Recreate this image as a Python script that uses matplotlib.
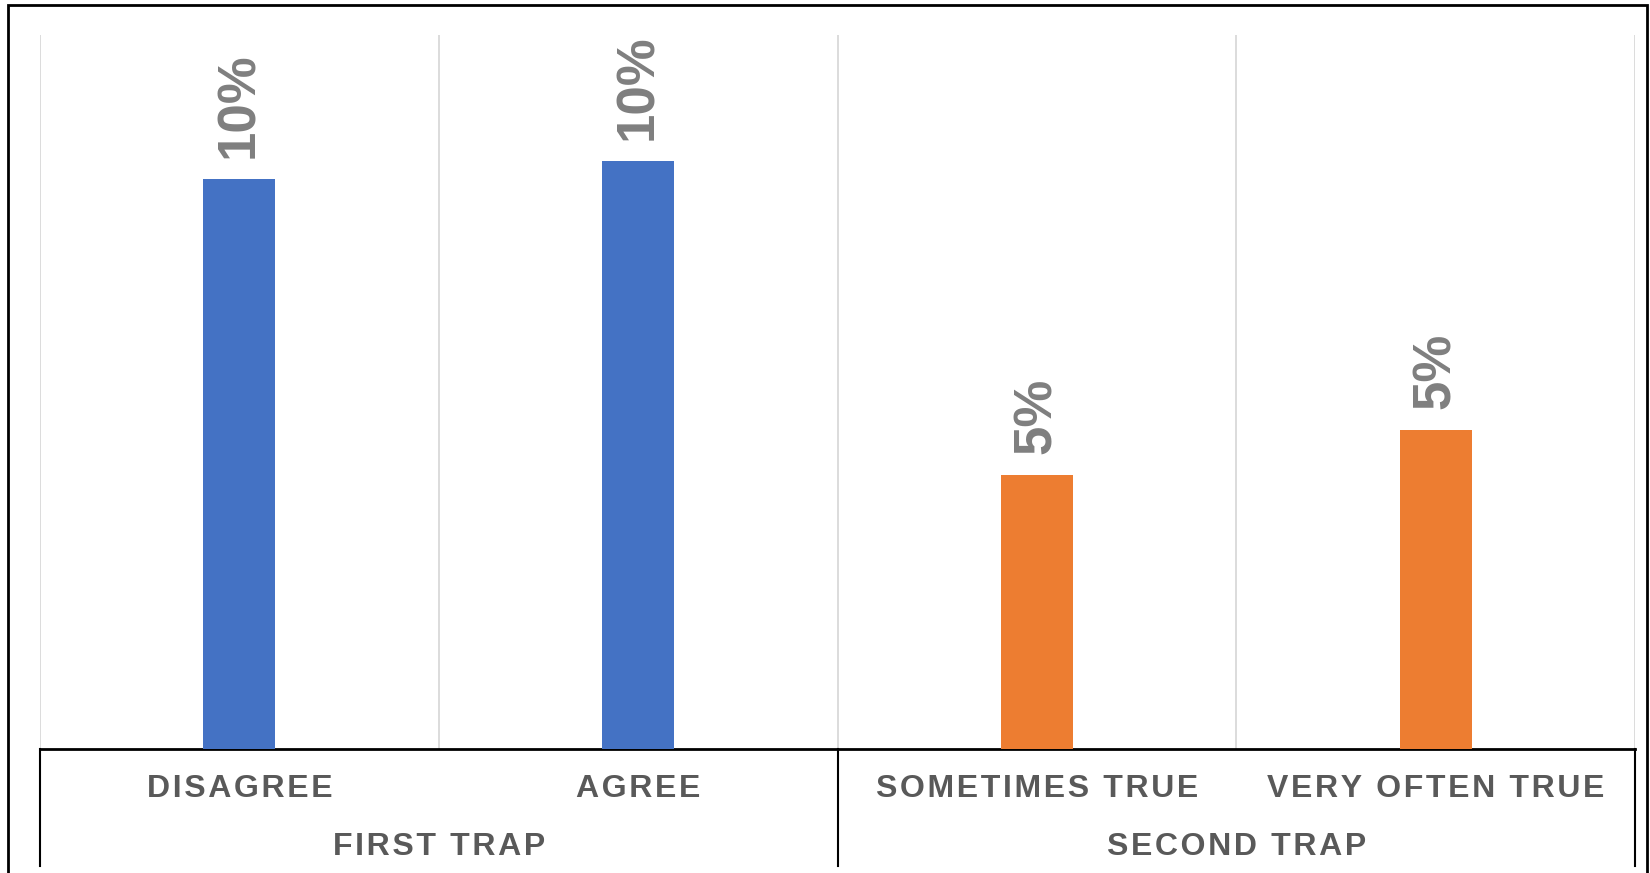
import matplotlib.pyplot as plt
from matplotlib.patches import Rectangle

categories = ["DISAGREE", "AGREE", "SOMETIMES TRUE", "VERY OFTEN TRUE"]
groups = ["FIRST TRAP", "SECOND TRAP"]
group_sizes = [2, 2]
values = [0.0958, 0.0988, 0.0461, 0.0536]
labels = ["10%", "10%", "5%", "5%"]
colors = ["#4472C4", "#4472C4", "#ED7D31", "#ED7D31"]

W, H = 1650, 873
fig = plt.figure(figsize=(W / 100, H / 100), dpi=100)
plt.rcParams["font.family"] = ["Liberation Sans", "DejaVu Sans"]


def spaced(s):
    # letter spacing like the original (hair spaces between characters)
    return "\u200a".join(s)


ax = fig.add_axes([40 / W, 1 - 749 / H, (1635 - 40) / W, (749 - 35) / H])

x = list(range(len(categories)))
bars = ax.bar(x, values, width=0.18, color=colors, zorder=3)

ax.set_xlim(-0.5, len(categories) - 0.5)
ax.set_ylim(0, 0.12)

# vertical gridlines on category boundaries
for b in [i - 0.5 for i in range(len(categories) + 1)]:
    ax.axvline(b, color="#d9d9d9", lw=1.3, zorder=1)

for s in ["top", "left", "right"]:
    ax.spines[s].set_visible(False)
ax.spines["bottom"].set_color("black")
ax.spines["bottom"].set_linewidth(2)
ax.set_yticks([])
ax.set_xticks([])

# data labels
for rect, lab in zip(bars, labels):
    ax.annotate(lab, (rect.get_x() + rect.get_width() / 2, rect.get_height()),
                xytext=(0, 15), textcoords="offset points",
                rotation=90, ha="center", va="bottom",
                fontsize=38, fontweight="bold", color="#7f7f7f")

# category and group labels under the axis
trans = ax.get_xaxis_transform()
for xi, cat in zip(x, categories):
    ax.text(xi, -(789 - 749) / (749 - 35), spaced(cat), transform=trans,
            ha="center", va="center", fontsize=23, fontweight="bold",
            color="#595959")

start = 0
bounds = [-0.5]
for g, n in zip(groups, group_sizes):
    mid = start + (n - 1) / 2
    ax.text(mid, -(847 - 749) / (749 - 35), spaced(g), transform=trans,
            ha="center", va="center", fontsize=23, fontweight="bold",
            color="#595959")
    start += n
    bounds.append(start - 0.5)

for b in bounds:
    ax.plot([b, b], [0, -(866 - 749) / (749 - 35)], transform=trans,
            color="black", lw=1.5, clip_on=False)

# outer frame
fig.patches.append(Rectangle((8 / W, -0.02), (1647 - 8) / W, 1.02 - 5 / H,
                             transform=fig.transFigure, fill=False,
                             edgecolor="black", lw=2))

fig.savefig("out.png", dpi=100)
